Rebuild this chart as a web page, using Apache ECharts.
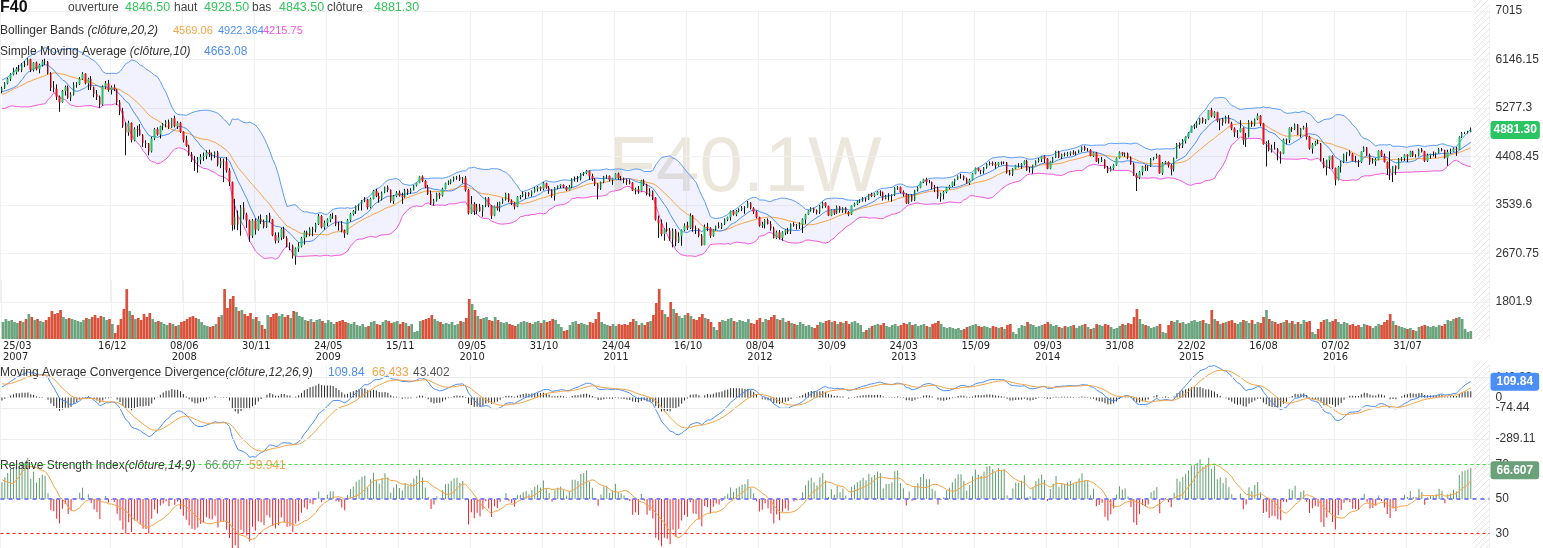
<!DOCTYPE html>
<html><head><meta charset="utf-8">
<script src="https://cdn.jsdelivr.net/npm/echarts@6/dist/echarts.min.js"></script>
<style>html,body{margin:0;padding:0;background:#fff}#c{width:1543px;height:548px}</style>
</head><body><div id="c"></div>
<script>
// ---------- DATA ----------
const firstWeek = '2007-03-25';
// closes of the weeks before the visible window (used only to seed indicators)
const preClose = [4970,5000,5100,5110,5210,5120,5200,5050,5250,5280,5390,5400,5420,5380,5440,5450,5320,5300,5420,5520,5500,5540,5510,5560,5640,5590,5660,5650,5720,5730,5390,5420,5330,5580];
// weekly [open, high, low, close]
const ohlc2007 = [
[5580,5660,5540,5634],[5634,5740,5620,5720],[5720,5820,5700,5800],[5800,5900,5760,5880],[5880,6000,5860,5920],
[5920,6010,5880,5980],[5980,6050,5930,5960],[5960,6080,5920,6060],[6060,6120,6010,6050],[6050,6170,6040,6150],
[6150,6160,5920,5960],[5960,6100,5930,6090],[6090,6110,5950,5970],[5970,6070,5900,6050],[6050,6140,6020,6110],
[6110,6160,6050,6100],[6100,6120,5880,5900],[5900,5920,5580,5640],[5640,5760,5560,5620],[5620,5700,5420,5480],
[5480,5500,5210,5380],[5380,5600,5370,5580],[5580,5680,5500,5650],[5650,5680,5440,5460],[5460,5560,5400,5520],
[5520,5740,5500,5700],[5700,5740,5640,5710],[5710,5830,5690,5800],[5800,5920,5780,5890],[5890,5900,5700,5720],
[5720,5820,5600,5800],[5800,5850,5600,5650],[5650,5660,5470,5530],[5530,5600,5420,5480],[5480,5500,5280,5340],
[5340,5680,5320,5660],[5660,5760,5620,5720],[5720,5780,5570,5600],[5600,5680,5520,5650],[5650,5700,5580,5610]];
const ohlc2008 = [
[5610,5620,5330,5380],[5380,5420,5150,5220],[5220,5280,4920,4960],[4960,5020,4430,4840],[4840,5050,4780,5010],
[5010,5020,4660,4700],[4700,4930,4680,4900],[4900,4960,4760,4890],[4890,4990,4780,4790],[4790,4810,4580,4650],
[4650,4700,4560,4640],[4640,4650,4430,4500],[4500,4760,4480,4730],[4730,4920,4700,4900],[4900,4930,4780,4800],
[4800,4960,4730,4950],[4950,5010,4880,4990],[4990,5060,4930,5030],[5030,5070,4900,4930],[4930,5100,4920,5090],
[5090,5140,4930,4950],[4950,5040,4900,5010],[5010,5030,4830,4850],[4850,4860,4660,4700],[4700,4780,4580,4600],
[4600,4620,4420,4450],[4450,4490,4310,4350],[4350,4420,4150,4320],[4320,4400,4120,4350],[4350,4450,4270,4400],
[4400,4480,4330,4420],[4420,4520,4360,4480],[4480,4530,4400,4450],[4450,4480,4340,4440],[4440,4500,4380,4480],
[4480,4510,4230,4260],[4260,4380,4200,4330],[4330,4370,3950,4320],[4320,4400,4120,4160],[4160,4200,3880,3950],
[3950,3960,3080,3180],[3180,3650,3100,3330],[3330,3440,3090,3190],[3190,3540,2990,3490],[3490,3590,3280,3370],
[3370,3400,3130,3260],[3260,3280,2880,2990],[2990,3290,2950,3260],[3260,3300,3010,3100],[3100,3340,3080,3290],
[3290,3370,3200,3250],[3250,3280,3120,3150]];
const ohlc2009 = [
[3150,3360,3130,3350],[3350,3400,3230,3280],[3280,3290,2980,3000],[3000,3050,2850,2900],[2900,3050,2860,2960],
[2960,3130,2910,3110],[3110,3150,2930,2950],[2950,2980,2780,2800],[2800,2870,2730,2810],[2810,2830,2580,2620],
[2620,2780,2470,2760],[2760,2870,2700,2800],[2800,2970,2780,2950],[2950,3080,2830,3050],[3050,3080,2960,3010],
[3010,3140,2980,3120],[3120,3150,2980,3100],[3100,3220,3050,3200],[3200,3380,3180,3340],[3340,3360,3120,3140],
[3140,3260,3100,3220],[3220,3300,3160,3280],[3280,3380,3230,3350],[3350,3400,3290,3350],[3350,3360,3160,3190],
[3190,3240,3080,3180],[3180,3250,3050,3080],[3080,3100,2950,3030],[3030,3290,3010,3270],[3270,3400,3240,3380],
[3380,3450,3350,3430],[3430,3530,3380,3520],[3520,3560,3440,3560],[3560,3630,3440,3620],[3620,3680,3590,3640],
[3640,3650,3460,3500],[3500,3670,3480,3650],[3650,3810,3640,3790],[3790,3830,3680,3700],[3700,3760,3580,3650],
[3650,3780,3620,3760],[3760,3870,3750,3860],[3860,3890,3770,3810],[3810,3820,3580,3610],[3610,3720,3560,3700],
[3700,3790,3680,3760],[3760,3800,3690,3710],[3710,3760,3560,3680],[3680,3830,3670,3800],[3800,3830,3720,3770],
[3770,3840,3740,3810],[3810,3900,3800,3890]];
const ohlc2010 = [
[3890,3940,3870,3936],[3936,4060,3930,4050],[4050,4070,3950,3970],[3970,3990,3840,3860],[3860,3900,3720,3740],
[3740,3800,3540,3560],[3560,3650,3530,3620],[3620,3760,3600,3740],[3740,3760,3650,3710],[3710,3850,3690,3830],
[3830,3940,3820,3930],[3930,3980,3900,3940],[3940,4000,3910,3990],[3990,4050,3960,4030],[4030,4060,3990,4040],
[4040,4080,3970,3990],[3990,4040,3930,4020],[4020,4060,3780,3810],[3810,3830,3370,3390],[3390,3700,3380,3560],
[3560,3590,3360,3430],[3430,3560,3380,3510],[3510,3560,3420,3430],[3430,3540,3330,3530],[3530,3680,3500,3660],
[3660,3680,3500,3530],[3530,3540,3290,3350],[3350,3530,3340,3520],[3520,3590,3440,3480],[3480,3600,3420,3590],
[3590,3660,3560,3640],[3640,3760,3620,3740],[3740,3750,3590,3610],[3610,3640,3540,3570],[3570,3590,3460,3510],
[3510,3700,3500,3690],[3690,3720,3640,3700],[3700,3780,3680,3740],[3740,3770,3650,3760],[3760,3770,3690,3720],
[3720,3800,3690,3780],[3780,3860,3760,3830],[3830,3880,3780,3860],[3860,3870,3790,3830],[3830,3950,3800,3930],
[3930,3940,3830,3850],[3850,3880,3740,3800],[3800,3820,3670,3700],[3700,3860,3620,3850],[3850,3890,3820,3880],
[3880,3910,3840,3900],[3900,3910,3840,3860],[3860,3880,3790,3805]];
const ohlc2011 = [
[3805,3900,3800,3860],[3860,4020,3840,4010],[4010,4050,3960,4010],[4010,4060,3950,4000],[4000,4110,3980,4100],
[4100,4130,4060,4110],[4110,4170,4090,4150],[4150,4160,3990,4060],[4060,4100,3970,4010],[4010,4020,3880,3910],
[3910,3930,3640,3830],[3830,3960,3810,3950],[3950,4060,3930,4050],[4050,4080,4010,4060],[4060,4070,3960,3990],
[3990,4030,3900,4020],[4020,4110,4010,4100],[4100,4120,3990,4020],[4020,4060,3980,4010],[4010,4030,3930,3990],
[3990,4010,3900,3960],[3960,4000,3910,3940],[3940,3950,3790,3800],[3800,3850,3730,3820],[3820,3880,3740,3790],
[3790,3990,3780,3980],[3980,4000,3880,3910],[3910,3920,3710,3740],[3740,3840,3690,3780],[3780,3800,3630,3670],
[3670,3680,3260,3280],[3280,3350,2950,3210],[3210,3280,2980,3020],[3020,3120,2900,3110],[3110,3230,3060,3080],
[3080,3130,2900,2920],[2920,3120,2780,3080],[3080,3110,2800,2880],[2880,3050,2860,2980],[2980,3100,2810,3090],
[3090,3210,3070,3170],[3170,3240,3090,3130],[3130,3390,3110,3350],[3350,3360,3060,3120],[3120,3170,3020,3110],
[3110,3120,2960,2990],[2990,3020,2810,2820],[2820,3190,2820,3150],[3150,3220,3070,3130],[3130,3140,2950,2990],
[2990,3110,2970,3100],[3100,3170,3080,3160]];
const ohlc2012 = [
[3160,3230,3120,3140],[3140,3220,3110,3200],[3200,3300,3180,3280],[3280,3330,3250,3320],[3320,3440,3260,3430],
[3430,3450,3350,3370],[3370,3450,3340,3430],[3430,3480,3410,3460],[3460,3520,3430,3490],[3490,3520,3380,3500],
[3500,3610,3490,3580],[3580,3590,3460,3480],[3480,3500,3380,3420],[3420,3440,3300,3320],[3320,3330,3150,3170],
[3170,3240,3130,3190],[3190,3290,3120,3270],[3270,3300,3190,3200],[3200,3250,3080,3120],[3120,3150,2940,2950],
[2950,3080,2930,3050],[3050,3090,2920,2950],[2950,3070,2900,3050],[3050,3100,3000,3090],[3090,3130,3020,3060],
[3060,3210,3020,3200],[3200,3230,3150,3170],[3170,3200,3100,3180],[3180,3230,3110,3190],[3190,3300,3040,3280],
[3280,3380,3200,3370],[3370,3450,3360,3440],[3440,3500,3420,3480],[3480,3490,3400,3440],[3440,3460,3370,3410],
[3410,3540,3380,3520],[3520,3600,3480,3580],[3580,3590,3490,3520],[3520,3530,3340,3350],[3350,3460,3340,3450],
[3450,3460,3360,3390],[3390,3530,3380,3510],[3510,3520,3400,3440],[3440,3500,3400,3490],[3490,3500,3390,3410],
[3410,3430,3340,3370],[3370,3530,3360,3530],[3530,3580,3510,3560],[3560,3620,3540,3600],[3600,3640,3580,3620],
[3620,3680,3600,3660],[3660,3670,3600,3640]];
const ohlc2013 = [
[3640,3740,3630,3730],[3730,3760,3680,3700],[3700,3750,3680,3730],[3730,3790,3720,3780],[3780,3800,3700,3770],
[3770,3780,3620,3650],[3650,3720,3640,3700],[3700,3750,3620,3700],[3700,3730,3600,3720],[3720,3860,3700,3850],
[3850,3880,3810,3860],[3860,3870,3750,3770],[3770,3800,3690,3730],[3730,3750,3560,3570],[3570,3730,3560,3720],
[3720,3730,3600,3620],[3620,3810,3610,3800],[3800,3870,3780,3850],[3850,3960,3840,3950],[3950,4010,3930,4000],
[4000,4030,3890,3950],[3950,3990,3930,3950],[3950,3960,3820,3860],[3860,3900,3770,3840],[3840,3870,3650,3690],
[3690,3760,3600,3740],[3740,3790,3640,3770],[3770,3860,3750,3850],[3850,3900,3820,3880],[3880,3960,3860,3950],
[3950,4010,3880,4000],[4000,4070,3990,4060],[4060,4100,4010,4060],[4060,4070,3980,4010],[4010,4030,3920,3930],
[3930,4010,3900,3990],[3990,4110,3980,4100],[4100,4210,4090,4200],[4200,4210,4140,4160],[4160,4170,4090,4150],
[4150,4220,4100,4210],[4210,4290,4190,4280],[4280,4320,4250,4290],[4290,4320,4240,4270],[4270,4310,4190,4250],
[4250,4310,4230,4300],[4300,4320,4260,4290],[4290,4320,4270,4300],[4300,4310,4100,4120],[4120,4170,4070,4090],
[4090,4200,4060,4190],[4190,4260,4180,4250]];
const ohlc2014 = [
[4250,4290,4210,4250],[4250,4290,4190,4270],[4270,4340,4260,4330],[4330,4350,4150,4160],[4160,4220,4120,4170],
[4170,4260,4100,4260],[4260,4340,4250,4330],[4330,4380,4300,4360],[4360,4420,4310,4410],[4410,4430,4290,4370],
[4370,4380,4180,4190],[4190,4330,4180,4320],[4320,4400,4300,4390],[4390,4510,4380,4500],[4500,4510,4380,4390],
[4390,4460,4360,4450],[4450,4480,4410,4440],[4440,4490,4410,4460],[4460,4500,4420,4480],[4480,4520,4440,4460],
[4460,4500,4430,4480],[4480,4530,4470,4520],[4520,4590,4490,4580],[4580,4600,4510,4530],[4530,4560,4500,4530],
[4530,4540,4410,4420],[4420,4490,4400,4480],[4480,4490,4310,4320],[4320,4380,4280,4330],[4330,4400,4310,4350],
[4350,4360,4190,4200],[4200,4240,4110,4150],[4150,4230,4140,4200],[4200,4270,4170,4250],[4250,4390,4240,4380],
[4380,4500,4370,4480],[4480,4490,4420,4450],[4450,4480,4400,4460],[4460,4480,4360,4390],[4390,4410,4260,4280],
[4280,4300,4060,4070],[4070,4110,3790,4030],[4030,4150,4000,4130],[4130,4240,4070,4230],[4230,4260,4150,4210],
[4210,4250,4150,4230],[4230,4380,4220,4370],[4370,4400,4340,4390],[4390,4460,4370,4430],[4430,4440,4100,4110],
[4110,4310,4080,4290],[4290,4330,4270,4310]];
const ohlc2015 = [
[4310,4320,4210,4250],[4250,4270,4070,4180],[4180,4390,4140,4380],[4380,4650,4370,4640],[4640,4660,4550,4600],
[4600,4720,4560,4690],[4690,4770,4640,4760],[4760,4840,4730,4830],[4830,4960,4830,4950],[4950,4990,4900,4960],
[4960,5040,4920,5010],[5010,5100,4980,5100],[5100,5110,5000,5030],[5030,5080,4990,5070],[5070,5240,5060,5240],
[5240,5280,5110,5130],[5130,5220,5100,5200],[5200,5210,5020,5050],[5050,5080,4880,5080],[5080,5100,4960,5020],
[5020,5140,5000,5110],[5110,5150,5000,5000],[5000,5030,4880,4910],[4910,4930,4760,4840],[4840,4880,4740,4850],
[4850,5060,4840,4920],[4920,4930,4620,4700],[4700,4830,4580,4760],[4760,5060,4750,5030],[5030,5050,4940,4980],
[4980,5090,4950,5080],[5080,5180,5060,5140],[5140,5150,4950,5000],[5000,5010,4620,4630],[4630,4680,4230,4650],
[4650,4700,4500,4520],[4520,4620,4480,4550],[4550,4670,4530,4540],[4540,4560,4340,4480],[4480,4500,4280,4460],
[4460,4730,4450,4710],[4710,4730,4630,4700],[4700,4930,4650,4920],[4920,4940,4850,4900],[4900,5000,4880,4980],
[4980,4990,4790,4800],[4800,4920,4750,4910],[4910,4960,4890,4930],[4930,5010,4710,4760],[4760,4780,4530,4550],
[4550,4650,4460,4620],[4620,4690,4600,4660]];
const ohlc2016 = [
[4660,4710,4630,4640],[4640,4650,4320,4330],[4330,4380,4200,4210],[4210,4350,4070,4340],[4340,4420,4190,4420],
[4420,4430,4180,4200],[4200,4210,3890,3990],[3990,4240,3980,4220],[4220,4330,4120,4310],[4310,4460,4290,4450],
[4450,4490,4320,4490],[4490,4520,4420,4460],[4460,4470,4320,4330],[4330,4420,4300,4320],[4320,4350,4220,4310],
[4310,4500,4290,4500],[4500,4590,4490,4570],[4570,4580,4420,4430],[4430,4460,4260,4310],[4310,4380,4280,4320],
[4320,4380,4240,4350],[4350,4520,4340,4510],[4510,4530,4400,4420],[4420,4460,4300,4310],[4310,4320,4080,4190],
[4190,4500,3990,4110],[4110,4240,3950,4240],[4240,4250,4080,4190],[4190,4380,4180,4370],[4370,4400,4320,4380],
[4380,4450,4330,4440],[4440,4450,4310,4410],[4410,4510,4400,4500],[4500,4510,4400,4420],[4420,4450,4390,4420],
[4420,4550,4410,4540],[4540,4560,4480,4500],[4500,4510,4310,4330],[4330,4460,4310,4430],[4430,4460,4370,4450],
[4450,4500,4410,4450],[4450,4480,4380,4470],[4470,4560,4460,4540],[4540,4560,4500,4520],[4520,4530,4370,4380],
[4380,4530,4240,4490],[4490,4550,4460,4500],[4500,4570,4490,4550],[4550,4580,4420,4530],[4530,4770,4530,4760],
[4760,4850,4740,4830],[4830,4850,4810,4840],[4840,4870,4820,4860]];
const ohlc2017 = [[4846.5,4928.5,4843.5,4881.3]];
// weekly volume (relative units)
const vol2007 = [34,40,36,38,34,32,36,34,40,50,44,38,40,36,34,38,44,56,50,52,58,44,40,42,40,38,36,34,38,42,40,44,48,42,46,44,38,40,30,12];
const vol2008 = [28,40,60,100,56,48,40,42,38,50,44,52,40,34,36,34,30,28,32,30,26,28,34,36,40,44,46,42,40,34,28,26,24,26,30,44,48,100,62,80,86,64,56,58,50,46,52,40,44,36,28,20];
const vol2009 = [48,44,50,52,46,50,44,48,42,56,54,46,44,38,36,40,34,38,40,36,32,38,34,30,34,36,38,34,32,30,34,28,26,30,24,26,34,36,30,28,34,38,36,32,34,36,30,34,32,26,30,14];
const vol2010 = [16,36,38,40,42,48,40,36,34,30,32,30,34,28,30,36,34,42,80,70,58,46,40,42,44,38,36,44,38,34,32,34,30,28,26,30,34,36,34,32,30,34,36,32,38,34,36,40,38,30,24,16,18];
const vol2011 = [28,34,36,30,32,30,28,34,32,40,54,34,30,28,26,30,26,30,28,30,28,34,40,36,28,32,28,34,36,48,72,100,58,50,44,74,60,52,46,42,48,52,46,40,38,44,50,42,40,34,24,18];
const vol2012 = [34,38,36,40,42,36,34,38,36,34,40,32,30,38,42,34,40,38,44,48,40,38,42,34,36,32,30,28,34,30,26,28,24,22,28,34,32,36,38,34,36,30,34,32,36,30,34,36,32,28,14,18];
const vol2013 = [22,26,28,30,28,32,26,24,28,30,26,28,32,30,34,28,30,26,28,30,26,24,30,32,36,30,24,22,24,22,20,22,18,20,24,26,28,30,26,24,26,24,22,26,24,22,24,20,28,30,14,10];
const vol2014 = [22,28,26,34,30,28,24,26,28,30,34,30,26,28,24,22,26,24,26,28,22,26,28,30,24,20,22,30,28,26,30,28,24,20,22,26,30,28,32,30,44,60,40,30,28,26,22,24,26,30,14,12];
const vol2015 = [28,36,34,38,32,34,30,32,36,38,34,36,38,32,30,58,40,36,30,32,34,36,38,32,30,34,38,36,32,38,30,34,32,44,58,40,36,34,30,32,34,38,32,36,30,34,30,38,34,36,14,10];
const vol2016 = [20,34,38,40,34,36,40,34,30,34,32,28,30,26,28,24,30,28,26,22,26,30,28,34,38,50,36,28,26,24,22,20,22,18,16,24,26,28,26,24,26,24,28,26,30,38,36,40,42,44,40,20,14];
const vol2017 = [16];
// header texts / values
const symbolName = 'F40';
const watermark = 'F40.1W';
const headerLabels = ['ouverture','haut','bas','clôture'];
const headerValues = ['4846.50','4928.50','4843.50','4881.30'];
const bbValues = ['4569.06','4922.364','4215.75'];
const smaValues = ['4663.08'];
const macdValues = ['109.84','66.433','43.402'];
const rsiValues = ['66.607','59.941'];
// axis tick labels
const priceTickLabels = [7015,6146.15,5277.3,4408.45,3539.6,2670.75,1801.9];
const macdTickLabels = [140.23,0,-74.44,-289.11];
const rsiTickLabels = [70,50,30];

// ---------- BUILD ----------
const ohlc = [].concat(ohlc2007,ohlc2008,ohlc2009,ohlc2010,ohlc2011,ohlc2012,ohlc2013,ohlc2014,ohlc2015,ohlc2016,ohlc2017);
const vol = [].concat(vol2007,vol2008,vol2009,vol2010,vol2011,vol2012,vol2013,vol2014,vol2015,vol2016,vol2017);
const N = ohlc.length, PAD = 6;
const t0 = Date.parse(firstWeek + 'T00:00:00Z');
const p2 = n => String(n).padStart(2,'0');
const cats = [];
for (let i = 0; i < N + PAD; i++) {
  const d = new Date(t0 + i * 7 * 86400000);
  cats.push(p2(d.getUTCDate()) + '/' + p2(d.getUTCMonth()+1) + '/' + d.getUTCFullYear());
}
const LSTART = 38, LSTEP = 25;
const isLab = i => i < N && (i === 0 || (i >= LSTART && (i - LSTART) % LSTEP === 0));
const prevLab = i => (i === LSTART ? 0 : i - LSTEP);
const fmtCat = (v, i) => {
  if (!isLab(i)) return '';
  const p = v.split('/');
  const showYear = i === 0 || cats[prevLab(i)].split('/')[2] !== p[2];
  return p[0] + '/' + p[1] + (showYear ? '\n' + p[2] : '');
};

const closes = ohlc.map(d => d[3]);
const allC = preClose.concat(closes);
const P = preClose.length;
const mean = a => a.reduce((s, x) => s + x, 0) / a.length;
const bbMid = [], bbUp = [], bbLo = [], sma10 = [];
for (let i = P; i < allC.length; i++) {
  const w = allC.slice(i - 19, i + 1), m = mean(w);
  const sd = Math.sqrt(mean(w.map(x => (x - m) * (x - m))));
  bbMid.push(m); bbUp.push(m + 2 * sd); bbLo.push(m - 2 * sd);
  sma10.push(mean(allC.slice(i - 9, i + 1)));
}
const bbWidth = bbUp.map((v, i) => v - bbLo[i]);
function ema(arr, n) { const k = 2 / (n + 1); const o = [arr[0]]; for (let i = 1; i < arr.length; i++) o.push(arr[i] * k + o[i-1] * (1 - k)); return o; }
const e12 = ema(allC, 12), e26 = ema(allC, 26);
const macdAll = e12.map((v, i) => v - e26[i]);
const sigAll = ema(macdAll, 9);
const macd = macdAll.slice(P), macdSig = sigAll.slice(P);
const macdHist = macd.map((v, i) => v - macdSig[i]);
const rsiAll = new Array(allC.length).fill(null);
let ag = 0, al = 0;
for (let i = 1; i <= 14; i++) { const d = allC[i] - allC[i-1]; if (d > 0) ag += d; else al -= d; }
ag /= 14; al /= 14; rsiAll[14] = 100 - 100 / (1 + ag / al);
for (let i = 15; i < allC.length; i++) {
  const d = allC[i] - allC[i-1];
  ag = (ag * 13 + Math.max(d, 0)) / 14; al = (al * 13 + Math.max(-d, 0)) / 14;
  rsiAll[i] = al === 0 ? 100 : 100 - 100 / (1 + ag / al);
}
const rsiSigAll = rsiAll.map((v, i) => i >= 22 ? mean(rsiAll.slice(i - 8, i + 1)) : null);
const rsi = rsiAll.slice(P), rsiSig = rsiSigAll.slice(P);

const UP = '#25c163', DN = '#e8121b';
const wick = ohlc.map(d => [d[0], d[3], d[2], d[1]]);
const body = ohlc.map(d => [d[0], d[3], Math.min(d[0], d[3]), Math.max(d[0], d[3])]);
const volData = vol.map((v, i) => ({ value: v, itemStyle: { color: ohlc[i][3] >= ohlc[i][0] ? '#6ba57f' : '#d8523c' } }));
const rsiBars = rsi.map(v => ({ value: v - 50, itemStyle: { color: v >= 50 ? '#5f9c6d' : '#e8262e' } }));

const FONT = '"Liberation Sans", Arial, sans-serif';
const NARROW = '"Liberation Sans Narrow", "Arial Narrow", "DejaVu Sans Condensed", sans-serif';
const BLUE = '#4d8ff3', ORANGE = '#f5a445', PINK = '#f257dc', VGREEN = '#33c45d';
const NOLINE = { color: 'rgba(0,0,0,0)', width: 1, type: 'solid' };

// pattern for the hatched future area
const pc = document.createElement('canvas'); pc.width = 6; pc.height = 6;
const g = pc.getContext('2d'); g.strokeStyle = '#e4e4e4'; g.lineWidth = 1;
g.beginPath(); g.moveTo(0, 6); g.lineTo(6, 0); g.stroke();

const T = (text, left, top, style, rich) => ({
  text, left, top, padding: 0, z: 6,
  textStyle: Object.assign({ fontFamily: FONT, fontWeight: 'normal', fontSize: 12, color: '#333', lineHeight: 14 }, style, rich ? { rich } : {})
});
const italicRich = { r: { fontFamily: FONT, fontSize: 12, color: '#333' }, i: { fontFamily: FONT, fontSize: 12, color: '#333', fontStyle: 'italic' } };
const titles = [
  T(symbolName, 0, 0, { fontSize: 16, fontWeight: 'bold', color: '#111', lineHeight: 16 }),
  T(headerLabels[0], 68, 1, { color: '#444' }),
  T(headerValues[0], 125, 1, { color: VGREEN, fontSize: 12.5 }),
  T(headerLabels[1], 174, 1, { color: '#444' }),
  T(headerValues[1], 204, 1, { color: VGREEN, fontSize: 12.5 }),
  T(headerLabels[2], 252, 1, { color: '#444' }),
  T(headerValues[2], 279, 1, { color: VGREEN, fontSize: 12.5 }),
  T(headerLabels[3], 327, 1, { color: '#444' }),
  T(headerValues[3], 374, 1, { color: VGREEN, fontSize: 12.5 }),
  T('{r|Bollinger Bands }{i|(clôture,20,2)}', 0, 24, {}, italicRich),
  T(bbValues[0], 173, 24, { color: ORANGE, fontSize: 11 }),
  T(bbValues[1], 218, 24, { color: BLUE, fontSize: 11 }),
  T(bbValues[2], 263, 24, { color: PINK, fontSize: 11 }),
  T('{r|Simple Moving Average }{i|(clôture,10)}', 0, 45, {}, italicRich),
  T(smaValues[0], 204, 45, { color: BLUE }),
  T('{r|Moving Average Convergence Divergence}{i|(clôture,12,26,9)}', 0, 366, {}, italicRich),
  T(macdValues[0], 328, 366, { color: BLUE }),
  T(macdValues[1], 372, 366, { color: ORANGE }),
  T(macdValues[2], 413, 366, { color: '#555' }),
  T('{r|Relative Strength Index}{i|(clôture,14,9)}', 0, 459, {}, italicRich),
  T(rsiValues[0], 205, 459, { color: '#5f9c6d' }),
  T(rsiValues[1], 249, 459, { color: ORANGE })
];

const GL = 0.5, GW = 1489;
const grids = [
  { left: GL, width: GW, top: 11, height: 291 },
  { left: GL, width: GW, top: 280, height: 59 },
  { left: GL, width: GW, top: 365, height: 95 },
  { left: GL, width: GW, top: 455, height: 93 }
];
const xAxes = [0, 1, 2, 3].map(gi => ({
  type: 'category', gridIndex: gi, data: cats, boundaryGap: true,
  axisLine: { show: false }, axisTick: { show: false },
  axisLabel: gi === 1 ? { show: true, interval: isLab, formatter: fmtCat, margin: 2, fontFamily: NARROW, fontSize: 11, lineHeight: 11, color: '#222', alignMinLabel: 'left' } : { show: false, interval: isLab },
  splitLine: { show: true, interval: isLab, lineStyle: { color: '#f0f0f0', width: 1 } }
}));
const ylab = { fontFamily: FONT, fontSize: 12, color: '#333', margin: 6 };
const pMin = Math.min(...priceTickLabels), pMax = Math.max(...priceTickLabels);
const pStep = priceTickLabels[0] - priceTickLabels[1];
const yAxes = [
  { type: 'value', gridIndex: 0, position: 'right', min: pMin, max: pMax, interval: pStep,
    axisLine: { show: false }, axisTick: { show: false },
    axisLabel: Object.assign({ formatter: v => String(Math.round(v * 100) / 100) }, ylab),
    splitLine: { lineStyle: { color: '#f2f2f2' } } },
  { type: 'value', gridIndex: 1, min: 0, max: 118, show: false },
  { type: 'value', gridIndex: 2, position: 'right', min: -435.6, max: 226.5,
    axisLine: { show: false }, axisTick: { show: false },
    axisLabel: Object.assign({ customValues: macdTickLabels, formatter: v => String(v) }, ylab),
    splitLine: { show: false } },
  { type: 'value', gridIndex: 3, position: 'right', min: -28.41, max: 25.51,
    axisLine: { show: false }, axisTick: { show: false },
    axisLabel: Object.assign({ customValues: rsiTickLabels.map(v => v - 50), formatter: v => String(Math.round(v + 50)) }, ylab),
    splitLine: { show: false } }
];
const tag = (text, bg, padH) => ({ show: true, position: 'end', distance: 1, formatter: text, color: '#fff', fontWeight: 'bold', fontFamily: FONT, fontSize: 12, lineHeight: 13, backgroundColor: bg, padding: [3, padH, 2, padH], borderRadius: 3 });
const line = (data, color, xi, yi, extra) => Object.assign({ type: 'line', data, xAxisIndex: xi, yAxisIndex: yi, symbol: 'none', showSymbol: false, silent: true, lineStyle: { color, width: 1 }, itemStyle: { color }, z: 2 }, extra || {});

const series = [
  line(bbLo, 'transparent', 0, 0, { stack: 'bb', lineStyle: { width: 0 }, z: 1 }),
  line(bbWidth, 'transparent', 0, 0, { stack: 'bb', lineStyle: { width: 0 }, areaStyle: { color: 'rgba(115,115,245,0.13)' }, z: 1 }),
  line(bbUp, '#5b9cf7', 0, 0),
  line(bbLo, PINK, 0, 0),
  line(bbMid, ORANGE, 0, 0),
  line(sma10, BLUE, 0, 0),
  { type: 'candlestick', xAxisIndex: 0, yAxisIndex: 0, data: wick, barWidth: 1, silent: true, z: 3,
    itemStyle: { color: '#111', color0: '#111', borderColor: '#111', borderColor0: '#111', borderWidth: 1 } },
  { type: 'candlestick', xAxisIndex: 0, yAxisIndex: 0, data: body, barWidth: 2, silent: true, z: 4,
    itemStyle: { color: UP, color0: DN, borderColor: UP, borderColor0: DN, borderWidth: 0 },
    markLine: { silent: true, symbol: ['none', 'none'], animation: false, z: 10,
      data: [{ yAxis: parseFloat(headerValues[3]), lineStyle: NOLINE, label: tag(headerValues[3], '#2bc462', 3) }] } },
  { type: 'bar', xAxisIndex: 1, yAxisIndex: 1, data: volData, barCategoryGap: '6%', silent: true, z: 2 },
  { type: 'bar', xAxisIndex: 2, yAxisIndex: 2, data: macdHist, barWidth: 1, silent: true, itemStyle: { color: '#2a2a2a' }, z: 2 },
  line(macd, BLUE, 2, 2, { z: 3,
    markLine: { silent: true, symbol: ['none', 'none'], animation: false, z: 10,
      data: macdTickLabels.filter(v => v !== 0).map(v => ({ yAxis: v, lineStyle: { color: '#ececec', type: 'solid', width: 1 }, label: { show: false } }))
        .concat([{ yAxis: parseFloat(macdValues[0]), lineStyle: NOLINE, label: tag(macdValues[0], '#4a8ef6', 6) }]) } }),
  line(macdSig, ORANGE, 2, 2, { z: 3 }),
  { type: 'bar', xAxisIndex: 3, yAxisIndex: 3, data: rsiBars, barWidth: 1, silent: true, z: 2,
    markLine: { silent: true, symbol: ['none', 'none'], animation: false, z: 10,
      data: [
        { yAxis: rsiTickLabels[0] - 50, lineStyle: { color: '#33dd33', type: [3, 3], width: 1 }, label: { show: false } },
        { yAxis: rsiTickLabels[1] - 50, lineStyle: { color: '#7b7ff0', type: [4, 4], width: 2 }, label: { show: false } },
        { yAxis: rsiTickLabels[2] - 50, lineStyle: { color: '#ff1f1f', type: [3, 3], width: 1 }, label: { show: false } },
        { yAxis: parseFloat(rsiValues[0]) - 50, lineStyle: NOLINE, label: tag(rsiValues[0], '#6aa07a', 6) }
      ] } },
  line(rsiSig.map(v => v == null ? null : v - 50), ORANGE, 3, 3, { z: 3 })
];

const chart = echarts.init(document.getElementById('c'), null, { renderer: 'canvas' });
chart.setOption({
  animation: false,
  backgroundColor: '#fff',
  title: titles,
  grid: grids,
  xAxis: xAxes,
  yAxis: yAxes,
  graphic: [
    { type: 'text', x: 745, y: 169, z: 0, silent: true,
      style: { text: watermark, fill: '#ebe7dc', font: 'normal 78px "Liberation Sans", Arial, sans-serif', align: 'center', verticalAlign: 'middle' } },
    { type: 'rect', z: 0, silent: true, shape: { x: 1474, y: 0, width: 15, height: 340 }, style: { fill: { image: pc, repeat: 'repeat' } } },
    { type: 'rect', z: 0, silent: true, shape: { x: 1474, y: 362, width: 15, height: 186 }, style: { fill: { image: pc, repeat: 'repeat' } } }
  ],
  series
});
</script></body></html>
